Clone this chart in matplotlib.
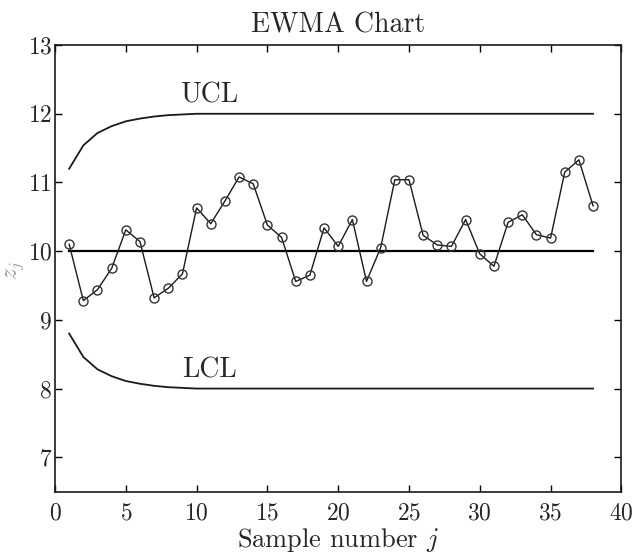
import matplotlib
matplotlib.use("Agg")
import matplotlib.pyplot as plt

plt.rcParams["font.family"] = ["cmr10", "DejaVu Serif"]
plt.rcParams["mathtext.fontset"] = "cm"
plt.rcParams["axes.formatter.use_mathtext"] = True

# EWMA statistic z_j for each sample
samples = list(range(1, 39))
z = [10.10, 9.28, 9.44, 9.75, 10.31, 10.14, 9.32, 9.46, 9.67, 10.63,
     10.40, 10.73, 11.08, 10.98, 10.38, 10.20, 9.56, 9.65, 10.34, 10.07,
     10.46, 9.56, 10.05, 11.04, 11.04, 10.23, 10.09, 10.07, 10.46, 9.96,
     9.78, 10.42, 10.53, 10.24, 10.19, 11.15, 11.33, 10.66]

# Control limits (time-varying at the start, steady afterwards)
limit_j = [1, 2, 3, 4, 5, 6, 7, 8, 9, 10, 38]
ucl = [11.20, 11.54, 11.72, 11.82, 11.89, 11.93, 11.96, 11.98, 11.99, 12.00, 12.00]
lcl = [8.80, 8.46, 8.28, 8.18, 8.11, 8.07, 8.04, 8.02, 8.01, 8.00, 8.00]
center_j = [1, 38]
center = [10.0, 10.0]

xticks = [0, 5, 10, 15, 20, 25, 30, 35, 40]
yticks = [7, 8, 9, 10, 11, 12, 13]

text_color = "#262626"

fig = plt.figure(figsize=(6.36, 5.53), dpi=100)
ax = fig.add_axes([0.0865, 0.111, 0.8905, 0.8075])

ax.plot(limit_j, ucl, color="#1a1a1a", lw=1.3)
ax.plot(limit_j, lcl, color="#1a1a1a", lw=1.3)
ax.plot(center_j, center, color="black", lw=1.6)
ax.plot(samples, z, color="#1a1a1a", lw=1.0, marker="o", ms=6.5,
        mfc="none", mec="#333333", mew=1.0)

ax.text(10.9, 12.07, "UCL", ha="center", va="bottom", fontsize=20,
        color=text_color)
ax.text(10.9, 8.07, "LCL", ha="center", va="bottom", fontsize=20,
        color=text_color)

ax.set_xlim(0, 40)
ax.set_ylim(6.5, 13)
ax.set_xticks(xticks)
ax.set_yticks(yticks)
ax.tick_params(direction="in", length=5, width=1.0, top=True, right=True,
               labelsize=17, labelcolor=text_color)
ax.tick_params(axis="x", pad=8)
ax.tick_params(axis="y", pad=2)
for s in ax.spines.values():
    s.set_linewidth(1.2)
    s.set_color("#1a1a1a")

ax.set_title("EWMA Chart", fontsize=20, color=text_color, pad=9)
ax.set_xlabel("Sample number $j$", fontsize=19, color=text_color, labelpad=1)
ax.set_ylabel("$z_j$", fontsize=17, color="#9a9a9a")
ax.yaxis.set_label_coords(-0.052, 0.496)

fig.savefig("out.png", dpi=100)
